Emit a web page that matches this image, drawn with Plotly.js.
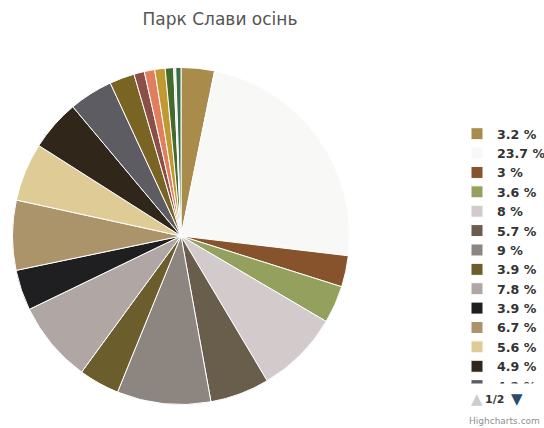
<!DOCTYPE html>
<html>
<head>
<meta charset="utf-8">
<script src="https://cdn.plot.ly/plotly-3.0.1.min.js"></script>
<style>html,body{margin:0;padding:0;background:#fff;}#chart{width:544px;height:428px;}</style>
</head>
<body>
<div id="chart"></div>
<script>
// Legend labels (percent shares), slice values and colours, in clockwise order from 12 o'clock
const labels = ["3.2 %", "23.7 %", "3 %", "3.6 %", "8 %", "5.7 %", "9 %", "3.9 %", "7.8 %", "3.9 %\u200b", "6.7 %", "5.6 %", "4.9 %", "4.2 %", "2.4 %", "1 %", "1 %\u200b", "1 %\u200b\u200b", "0.8 %", "0.2 %", "0.5 %"];
const values = [3.2, 23.7, 3, 3.6, 8, 5.7, 9, 3.9, 7.8, 3.9, 6.7, 5.6, 4.9, 4.2, 2.4, 1.0, 1.0, 1.0, 0.8, 0.2, 0.5];
const colors = ["#A98B4B", "#F8F8F6", "#86532C", "#94A05E", "#D3CBCB", "#695D4B", "#8C8580", "#6B5D2C", "#B0A6A3", "#1F1F21", "#AC946A", "#DECB95", "#30271A", "#5D5C62", "#7A6423", "#8B4F48", "#E07E5E", "#C09A30", "#456B2C", "#E6E6DC", "#3A6E4A"];
const titleText = "Парк Слави осінь";
const pagerText = "1/2";
const creditText = "Highcharts.com";

const W = 544, H = 428;
const cx = 181, cy = 236, r = 168.5;

const trace = {
  type: "pie",
  labels: labels,
  values: values,
  sort: false,
  direction: "clockwise",
  rotation: 0,
  textinfo: "none",
  hoverinfo: "none",
  marker: {colors: colors, line: {color: "#FFFFFF", width: 1}},
  domain: {x: [(cx - r) / W, (cx + r) / W], y: [1 - (cy + r) / H, 1 - (cy - r) / H]}
};

const px = (x) => x / W, py = (y) => 1 - y / H;

const layout = {
  width: W, height: H,
  margin: {l: 0, r: 0, t: 0, b: 0, autoexpand: false},
  paper_bgcolor: "#FFFFFF",
  title: {text: titleText, x: px(220), xanchor: "center", y: py(19), yanchor: "middle",
          font: {family: "DejaVu Sans", size: 17, color: "#555555"}},
  showlegend: true,
  legend: {
    x: px(457), xanchor: "left", y: py(119), yanchor: "top",
    font: {family: "DejaVu Sans", size: 12.6, color: "#333333", weight: "bold"},
    bgcolor: "rgba(0,0,0,0)", borderwidth: 0,
    maxheight: 264.5, traceorder: "normal"
  },
  annotations: [
    {text: "▲", x: px(477), xanchor: "center", y: py(399), yanchor: "middle", xref: "paper", yref: "paper", showarrow: false,
     font: {family: "DejaVu Sans", size: 15, color: "#CCCCCC"}},
    {text: "<b>" + pagerText + "</b>", x: px(494), xanchor: "center", y: py(399), yanchor: "middle", xref: "paper", yref: "paper", showarrow: false,
     font: {family: "DejaVu Sans", size: 11, color: "#333333"}},
    {text: "▼", x: px(517), xanchor: "center", y: py(399), yanchor: "middle", xref: "paper", yref: "paper", showarrow: false,
     font: {family: "DejaVu Sans", size: 15, color: "#274B6D"}},
    {text: creditText, x: px(542), xanchor: "right", y: py(421), yanchor: "middle", xref: "paper", yref: "paper", showarrow: false,
     font: {family: "DejaVu Sans", size: 9, color: "#909090"}}
  ]
};

Plotly.newPlot("chart", [trace], layout, {displayModeBar: false, staticPlot: true});
</script>
</body>
</html>
